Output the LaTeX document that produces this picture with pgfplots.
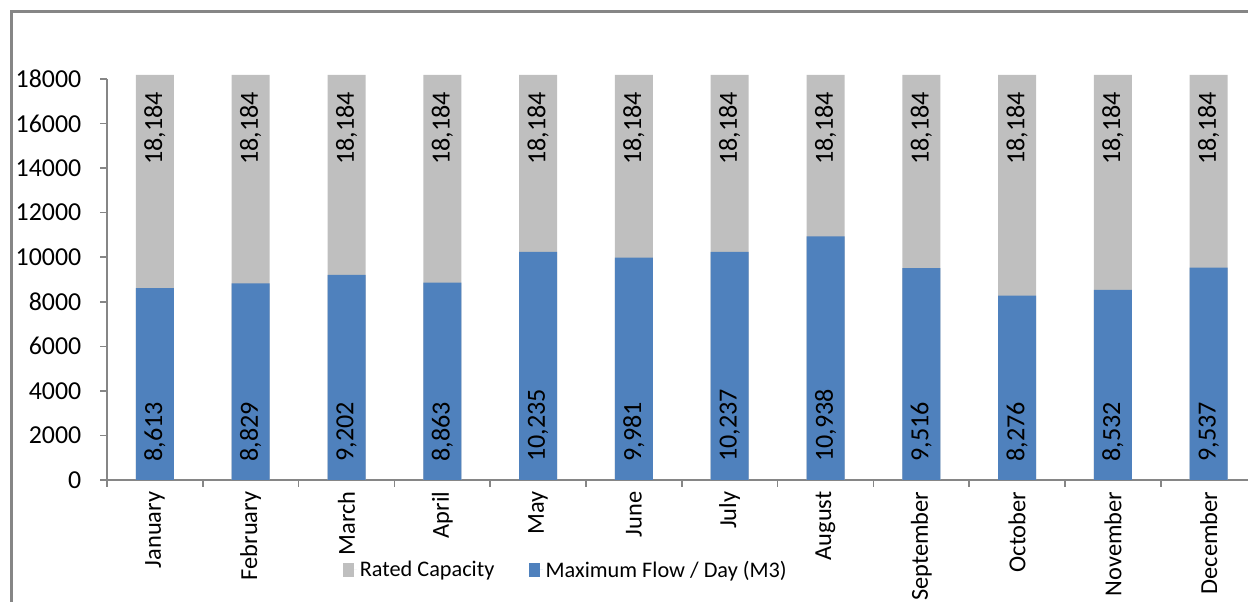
\documentclass[border=0pt]{standalone}
\usepackage{fontspec}
\setmainfont{Carlito}
\usepackage{pgfplots}
\pgfplotsset{compat=1.18}
\usepackage{pgfplotstable}
\definecolor{axisgray}{HTML}{868686}
\definecolor{capgray}{HTML}{BFBFBF}
\definecolor{flowblue}{HTML}{4F81BD}

\pgfplotstableread{
x month flow cap
0 January 8613 18184
1 February 8829 18184
2 March 9202 18184
3 April 8863 18184
4 May 10235 18184
5 June 9981 18184
6 July 10237 18184
7 August 10938 18184
8 September 9516 18184
9 October 8276 18184
10 November 8532 18184
11 December 9537 18184
}\data

\pgfplotsset{
  sqlegend/.style={legend image code/.code={\fill[##1] (0pt,-5.6pt) rectangle (8.25pt,5.6pt);\path (0pt,0pt) -- (10.5pt,0pt);}},
}

\begin{document}
\begin{tikzpicture}
\path[use as bounding box] (0pt,0pt) rectangle (936pt,451.5pt);
\clip (0pt,0pt) rectangle (936pt,451.5pt);
\draw[axisgray, line width=2.6pt] (8.6pt,-15pt) -- (8.6pt,442.9pt) -- (950pt,442.9pt);
\begin{axis}[
  at={(80.25pt,91.5pt)}, anchor=south west,
  scale only axis, width=862.2pt, height=300.75pt,
  xmin=-0.5, xmax=11.5, ymin=0, ymax=18000,
  clip=false,
  axis lines*=left,
  axis line style={axisgray, line width=1.1pt},
  tick align=outside,
  major tick length=5.25pt, minor tick length=5.25pt,
  tick style={axisgray, line width=1.1pt},
  ytick={0,2000,...,18000},
  scaled y ticks=false,
  /pgf/number format/assume math mode=true,
  /pgf/number format/1000 sep={,},
  yticklabel style={/pgf/number format/1000 sep={}, font=\fontsize{19.4}{23}\selectfont, xshift=-10.5pt},
  xtick={0,...,11},
  xticklabels from table={\data}{month},
  xticklabel style={rotate=90, anchor=east, font=\fontsize{18.3}{22}\selectfont},
  major x tick style={draw=none},
  minor xtick={-0.5,0.5,...,11.5},
  legend columns=2,
  legend style={at={(0.3995,-0.2244)}, anchor=center, draw=none, fill=none,
    font=\fontsize{16.7}{20}\selectfont,
    /tikz/every even column/.append style={column sep=24pt}},
]
\addplot[ybar, bar width=28.5pt, bar shift=0pt, fill=capgray, draw=none, sqlegend,
  nodes near coords,
  nodes near coords style={rotate=90, anchor=east, inner xsep=12.5pt, inner ysep=0pt, font=\fontsize{19.6}{23}\selectfont, text=black}]
  table[x=x, y=cap]{\data};
\addlegendentry{Rated Capacity}
\addplot[ybar, bar width=28.5pt, bar shift=0pt, fill=flowblue, draw=none, sqlegend]
  table[x=x, y=flow]{\data};
\addlegendentry{Maximum Flow / Day (M3)}
\addplot[forget plot, draw=none, mark=none, nodes near coords, point meta=explicit,
  nodes near coords style={rotate=90, anchor=west, inner xsep=13.5pt, inner ysep=0pt, font=\fontsize{19.6}{23}\selectfont, text=black}]
  table[x=x, y expr=0, meta=flow]{\data};
\end{axis}
\end{tikzpicture}
\end{document}
